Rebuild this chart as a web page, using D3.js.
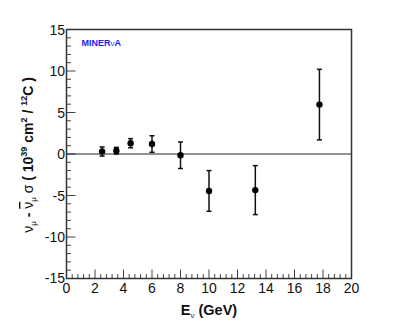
<!DOCTYPE html>
<html>
<head>
<meta charset="utf-8">
<script src="https://cdn.jsdelivr.net/npm/d3@7"></script>
<style>
  body { margin: 0; background: #fff; }
  svg { display: block; font-family: "Liberation Sans", Arial, sans-serif; }
  .tick-label { font-size: 14px; fill: #111; }
</style>
</head>
<body>
<svg id="chart"></svg>
<script>
// measured energy bins (GeV), central values and errors
const energy = [2.5, 3.5, 4.5, 6, 8, 10, 13.25, 17.75];
const diffXsec = [0.3, 0.4, 1.3, 1.2, -0.15, -4.45, -4.35, 5.95];
const errors = [0.55, 0.4, 0.55, 1.0, 1.6, 2.45, 2.95, 4.25];

const xTicks = [0, 2, 4, 6, 8, 10, 12, 14, 16, 18, 20];
const yTicks = [-15, -10, -5, 0, 5, 10, 15];

const data = energy.map((e, i) => ({x: e, y: diffXsec[i], err: errors[i]}));

const config = {
  containerWidth: 407,
  containerHeight: 328,
  margin: {top: 29.5, right: 55.5, bottom: 49.5, left: 66.5}
};
const width = config.containerWidth - config.margin.left - config.margin.right;
const height = config.containerHeight - config.margin.top - config.margin.bottom;

const svg = d3.select('#chart')
    .attr('width', config.containerWidth)
    .attr('height', config.containerHeight);

const chart = svg.append('g')
    .attr('transform', `translate(${config.margin.left},${config.margin.top})`);

const xScale = d3.scaleLinear().domain([0, 20]).range([0, width]);
const yScale = d3.scaleLinear().domain([-15, 15]).range([height, 0]);

// minor ticks, inward
const xMinor = d3.range(0, 20.001, 0.4);
const yMinor = d3.range(-15, 15.001, 1);

chart.selectAll('.xminor')
  .data(xMinor)
  .join('line')
    .attr('x1', d => xScale(d)).attr('x2', d => xScale(d))
    .attr('y1', height).attr('y2', d => xTicks.some(t => Math.abs(t - d) < 1e-6) ? height - 9 : height - 4.5)
    .attr('stroke', '#444').attr('stroke-width', 1);

chart.selectAll('.yminor')
  .data(yMinor)
  .join('line')
    .attr('y1', d => yScale(d)).attr('y2', d => yScale(d))
    .attr('x1', 0).attr('x2', d => yTicks.includes(d) ? 9 : 4.5)
    .attr('stroke', '#444').attr('stroke-width', 1);

// tick labels
chart.selectAll('.xlab')
  .data(xTicks)
  .join('text')
    .attr('class', 'tick-label')
    .attr('x', d => xScale(d))
    .attr('y', height + 14)
    .attr('text-anchor', 'middle')
    .text(d => d);

chart.selectAll('.ylab')
  .data(yTicks)
  .join('text')
    .attr('class', 'tick-label')
    .attr('x', -1.5)
    .attr('y', d => yScale(d) + (d === -15 ? 4 : 5))
    .attr('text-anchor', 'end')
    .text(d => d);

// zero line
chart.append('line')
    .attr('x1', 0).attr('x2', width)
    .attr('y1', yScale(0)).attr('y2', yScale(0))
    .attr('stroke', '#222').attr('stroke-width', 1);

// frame
chart.append('rect')
    .attr('width', width).attr('height', height)
    .attr('fill', 'none').attr('stroke', '#333').attr('stroke-width', 1.5);

// error bars
const pts = chart.selectAll('.pt')
  .data(data)
  .join('g');

pts.append('line')
    .attr('x1', d => xScale(d.x)).attr('x2', d => xScale(d.x))
    .attr('y1', d => yScale(d.y + d.err)).attr('y2', d => yScale(d.y - d.err))
    .attr('stroke', '#111').attr('stroke-width', 1.5);

[1, -1].forEach(s => {
  pts.append('line')
      .attr('x1', d => xScale(d.x) - 2.5).attr('x2', d => xScale(d.x) + 2.5)
      .attr('y1', d => yScale(d.y + s * d.err)).attr('y2', d => yScale(d.y + s * d.err))
      .attr('stroke', '#111').attr('stroke-width', 1.5);
});

pts.append('circle')
    .attr('cx', d => xScale(d.x)).attr('cy', d => yScale(d.y))
    .attr('r', 3.2).attr('fill', '#000');

// MINERvA label
const tag = svg.append('text')
    .attr('x', 81.5).attr('y', 46)
    .attr('font-size', 9).attr('font-weight', 'bold').attr('fill', '#1a1aff');
tag.append('tspan').text('MINER');
tag.append('tspan').attr('font-weight', 'normal').attr('font-size', 8).text('ν');
tag.append('tspan').text('A');

// x title
const xt = svg.append('text')
    .attr('x', 209).attr('y', 315)
    .attr('text-anchor', 'middle')
    .attr('font-size', 14.5).attr('font-weight', 'bold').attr('fill', '#111');
xt.append('tspan').text('E');
xt.append('tspan').attr('font-size', 8).attr('font-weight', 'normal').attr('dy', 3).text('ν');
xt.append('tspan').attr('dy', -3).text(' (GeV)');

// y title
const yt = svg.append('text')
    .attr('transform', 'translate(33,155) rotate(-90)')
    .attr('text-anchor', 'middle')
    .attr('font-size', 14).attr('fill', '#111');
yt.append('tspan').text('ν');
yt.append('tspan').attr('font-size', 8).attr('dy', 3).text('μ');
yt.append('tspan').attr('dy', -3).attr('font-weight', 'bold').text(' - ');
yt.append('tspan').attr('text-decoration', 'overline').text('ν');
yt.append('tspan').attr('font-size', 8).attr('dy', 3).text('μ');
yt.append('tspan').attr('dy', -3).text(' σ ');
yt.append('tspan').attr('font-weight', 'bold').text('( 10');
yt.append('tspan').attr('font-size', 9).attr('dy', -6).attr('font-weight', 'bold').text('39');
yt.append('tspan').attr('dy', 6).attr('font-weight', 'bold').text(' cm');
yt.append('tspan').attr('font-size', 9).attr('dy', -6).attr('font-weight', 'bold').text('2');
yt.append('tspan').attr('dy', 6).attr('font-weight', 'bold').text(' / ');
yt.append('tspan').attr('font-size', 9).attr('dy', -6).attr('font-weight', 'bold').text('12');
yt.append('tspan').attr('dy', 6).attr('font-weight', 'bold').text('C )');
</script>
</body>
</html>
